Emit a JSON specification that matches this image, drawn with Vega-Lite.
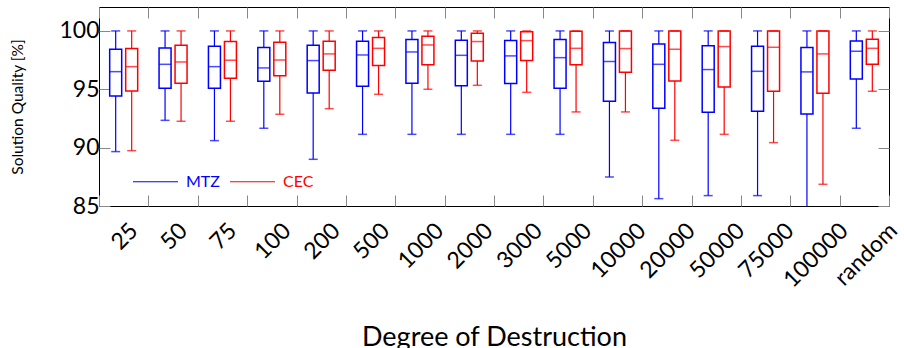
{
  "$schema": "https://vega.github.io/schema/vega-lite/v6.json",
  "width": 790,
  "height": 199,
  "autosize": "none",
  "padding": {"left": 99, "top": 7, "right": 15, "bottom": 142},
  "config": {"view": {"stroke": "black", "strokeWidth": 1}, "font": "Lato"},
  "data": {"values": [
    {"cat": "25", "series": "MTZ", "min": 89.66, "q1": 94.43, "med": 96.51, "q3": 98.43, "max": 100},
    {"cat": "25", "series": "CEC", "min": 89.74, "q1": 94.86, "med": 96.94, "q3": 98.49, "max": 100},
    {"cat": "50", "series": "MTZ", "min": 92.34, "q1": 95.09, "med": 97.14, "q3": 98.54, "max": 100},
    {"cat": "50", "series": "CEC", "min": 92.26, "q1": 95.52, "med": 97.34, "q3": 98.77, "max": 100},
    {"cat": "75", "series": "MTZ", "min": 90.6, "q1": 95.09, "med": 96.94, "q3": 98.69, "max": 100},
    {"cat": "75", "series": "CEC", "min": 92.26, "q1": 95.94, "med": 97.49, "q3": 99.09, "max": 100},
    {"cat": "100", "series": "MTZ", "min": 91.66, "q1": 95.69, "med": 96.83, "q3": 98.57, "max": 100},
    {"cat": "100", "series": "CEC", "min": 92.86, "q1": 96.17, "med": 97.51, "q3": 99.03, "max": 100},
    {"cat": "200", "series": "MTZ", "min": 89.0, "q1": 94.69, "med": 97.46, "q3": 98.77, "max": 100},
    {"cat": "200", "series": "CEC", "min": 93.34, "q1": 96.63, "med": 98.03, "q3": 99.11, "max": 100},
    {"cat": "500", "series": "MTZ", "min": 91.14, "q1": 95.26, "med": 97.94, "q3": 99.11, "max": 100},
    {"cat": "500", "series": "CEC", "min": 94.57, "q1": 97.03, "med": 98.51, "q3": 99.43, "max": 100},
    {"cat": "1000", "series": "MTZ", "min": 91.14, "q1": 95.52, "med": 98.2, "q3": 99.26, "max": 100},
    {"cat": "1000", "series": "CEC", "min": 95.0, "q1": 97.11, "med": 98.8, "q3": 99.54, "max": 100},
    {"cat": "2000", "series": "MTZ", "min": 91.14, "q1": 95.31, "med": 97.91, "q3": 99.2, "max": 100},
    {"cat": "2000", "series": "CEC", "min": 95.34, "q1": 97.43, "med": 99.09, "q3": 99.8, "max": 100},
    {"cat": "3000", "series": "MTZ", "min": 91.14, "q1": 95.49, "med": 97.86, "q3": 99.17, "max": 100},
    {"cat": "3000", "series": "CEC", "min": 94.74, "q1": 97.46, "med": 99.17, "q3": 99.94, "max": 100},
    {"cat": "5000", "series": "MTZ", "min": 91.14, "q1": 95.09, "med": 97.71, "q3": 99.26, "max": 100},
    {"cat": "5000", "series": "CEC", "min": 93.06, "q1": 97.11, "med": 98.51, "q3": 99.97, "max": 100},
    {"cat": "10000", "series": "MTZ", "min": 87.49, "q1": 93.97, "med": 97.37, "q3": 99.0, "max": 100},
    {"cat": "10000", "series": "CEC", "min": 93.06, "q1": 96.46, "med": 98.49, "q3": 100, "max": 100},
    {"cat": "20000", "series": "MTZ", "min": 85.63, "q1": 93.37, "med": 97.14, "q3": 98.89, "max": 100},
    {"cat": "20000", "series": "CEC", "min": 90.63, "q1": 95.71, "med": 98.43, "q3": 100, "max": 100},
    {"cat": "50000", "series": "MTZ", "min": 85.89, "q1": 93.03, "med": 96.69, "q3": 98.74, "max": 100},
    {"cat": "50000", "series": "CEC", "min": 91.14, "q1": 95.2, "med": 98.66, "q3": 100, "max": 100},
    {"cat": "75000", "series": "MTZ", "min": 85.89, "q1": 93.11, "med": 96.54, "q3": 98.69, "max": 100},
    {"cat": "75000", "series": "CEC", "min": 90.43, "q1": 94.83, "med": 98.6, "q3": 100, "max": 100},
    {"cat": "100000", "series": "MTZ", "min": 84.0, "q1": 92.89, "med": 96.49, "q3": 98.57, "max": 100},
    {"cat": "100000", "series": "CEC", "min": 86.86, "q1": 94.66, "med": 98.03, "q3": 100, "max": 100},
    {"cat": "random", "series": "MTZ", "min": 91.66, "q1": 95.89, "med": 98.26, "q3": 99.14, "max": 100},
    {"cat": "random", "series": "CEC", "min": 94.83, "q1": 97.14, "med": 98.51, "q3": 99.29, "max": 100}
  ]},
  "layer": [
    {
      "encoding": {
        "x": {
          "field": "cat", "type": "nominal",
          "scale": {"domain": ["25","50","75","100","200","500","1000","2000","3000","5000","10000","20000","50000","75000","100000","random"], "paddingInner": 0, "paddingOuter": 0},
          "axis": {
            "orient": "bottom", "title": "Degree of Destruction", "titleFontSize": 27, "titleFontWeight": "normal", "titleColor": "black",
            "titleY": 139, "titleBaseline": "alphabetic",
            "labelAngle": -45, "labelAlign": "right", "labelBaseline": "top", "labelFontSize": 23, "labelColor": "black",
            "labelOffset": {"expr": "0.354 * (length(datum.label) * 13.3 - 20)"}, "labelPadding": 24,
            "tickBand": "extent", "tickSize": -11, "tickColor": "#888", "tickWidth": 1,
            "domain": false, "grid": false
          }
        },
        "xOffset": {"field": "series", "type": "nominal", "scale": {"domain": ["MTZ", "CEC"], "paddingInner": 0.25, "paddingOuter": 0.668}},
        "color": {
          "field": "series", "type": "nominal",
          "scale": {"domain": ["MTZ", "CEC"], "range": ["#0000ff", "#ff0000"]},
          "legend": {
            "orient": "none", "legendX": 33, "legendY": 151, "direction": "horizontal", "title": null,
            "symbolType": "stroke", "symbolSize": 2025, "symbolStrokeWidth": 1.2,
            "labelFontSize": 16, "labelOffset": 7, "columnPadding": 7, "padding": 0,
            "encode": {"labels": {"update": {"fill": {"scale": "color", "field": "value"}}}, "symbols": {"update": {"stroke": {"scale": "color", "field": "value"}}}}
          }
        }
      },
      "layer": [
        {
          "mark": {"type": "rule", "strokeWidth": 1.2, "clip": true},
          "encoding": {
            "y": {"field": "min", "type": "quantitative", "scale": {"domain": [85, 102.05], "nice": false, "zero": false},
              "axis": {"orient": "left", "title": "Solution Quality [%]", "titleFontSize": 15.5, "titleFontWeight": "normal", "titleColor": "black",
                "titleX": -82, "titleY": 99.5, "titleBaseline": "middle", "titleAlign": "center", "titleAngle": 270,
                "values": [85, 90, 95, 100], "labelFontSize": 23, "labelColor": "black", "labelPadding": 11,
                "tickSize": -11, "tickColor": "#888", "domain": false, "grid": false}},
            "y2": {"field": "q1"}
          }
        },
        {
          "mark": {"type": "rule", "strokeWidth": 1.2},
          "encoding": {"y": {"field": "q3", "type": "quantitative"}, "y2": {"field": "max"}}
        },
        {
          "mark": {"type": "bar", "filled": false, "strokeWidth": 1.5, "fill": "white"},
          "encoding": {"y": {"field": "q1", "type": "quantitative"}, "y2": {"field": "q3"}}
        },
        {
          "mark": {"type": "tick", "size": 12, "thickness": 1.5},
          "encoding": {"y": {"field": "med", "type": "quantitative"}}
        },
        {
          "mark": {"type": "tick", "size": 9, "thickness": 1.5, "clip": true},
          "encoding": {"y": {"field": "min", "type": "quantitative"}}
        },
        {
          "mark": {"type": "tick", "size": 9, "thickness": 1.5},
          "encoding": {"y": {"field": "max", "type": "quantitative"}}
        }
      ]
    },
    {
      "mark": {"type": "rule", "opacity": 0},
      "encoding": {
        "x": {"field": "cat", "type": "nominal",
          "axis": {"orient": "top", "title": null, "labels": false, "tickBand": "extent", "tickSize": -11, "tickColor": "#888", "domain": false, "grid": false}},
        "y": {"field": "max", "type": "quantitative",
          "axis": {"orient": "right", "title": null, "labels": false, "values": [85, 90, 95, 100], "tickSize": -11, "tickColor": "#888", "domain": false, "grid": false}}
      }
    }
  ],
  "resolve": {"axis": {"x": "independent", "y": "independent"}}
}
